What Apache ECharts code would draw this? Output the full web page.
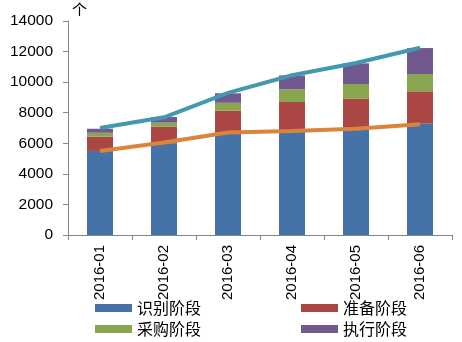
<!DOCTYPE html>
<html><head><meta charset="utf-8">
<script src="https://cdn.jsdelivr.net/npm/echarts@6/dist/echarts.min.js"></script>
<style>html,body{margin:0;padding:0;background:#fff}#c{width:462px;height:342px}</style>
</head><body><div id="c"></div>
<script>
const categories = ['2016-01','2016-02','2016-03','2016-04','2016-05','2016-06'];
const identify = [5500, 6000, 6700, 6780, 6910, 7280];
const prepare = [930, 1080, 1430, 1920, 2000, 2120];
const purchase = [260, 270, 520, 830, 970, 1130];
const execute = [260, 370, 620, 910, 1350, 1700];
const totalLine = [7000, 7700, 9300, 10450, 11250, 12250];
const identifyLine = [5500, 6050, 6700, 6800, 6950, 7250];
const yTicks = [0, 2000, 4000, 6000, 8000, 10000, 12000, 14000];

const chart = echarts.init(document.getElementById('c'), null, {renderer:'canvas'});
const cjk = '"Noto Sans CJK SC", sans-serif';
const lat = '"Liberation Sans", Arial, sans-serif';
const legendText = {fontFamily: cjk, fontSize: 16, color: '#000'};
function bar(name, data, color) {
  return {name, type:'bar', stack:'s', data, barWidth: 26,
    itemStyle:{color, borderWidth:0}, z:2};
}
chart.setOption({
  animation:false,
  grid:{left:68, right:10, top:21, bottom:107, containLabel:false},
  legend:[
    {data:['识别阶段','准备阶段'], left:90, top:295, itemWidth:37, itemHeight:8, itemGap:100,
     icon:'rect', itemStyle:{borderWidth:0}, textStyle:legendText},
    {data:['采购阶段','执行阶段'], left:90, top:316, itemWidth:37, itemHeight:8, itemGap:100,
     icon:'rect', itemStyle:{borderWidth:0}, textStyle:legendText}
  ],
  xAxis:{type:'category', data:categories,
    axisLine:{lineStyle:{color:'#868686'}},
    axisTick:{show:true, length:5, alignWithLabel:false, lineStyle:{color:'#868686'}},
    axisLabel:{rotate:90, fontFamily:lat, fontSize:15, color:'#000', margin:10}},
  yAxis:{type:'value', min:yTicks[0], max:yTicks[yTicks.length-1], interval:2000,
    name:'个', nameLocation:'end', nameGap:4,
    nameTextStyle:{fontFamily:cjk, fontSize:15, color:'#000', align:'left', padding:[0,0,0,4]},
    axisLine:{show:true, lineStyle:{color:'#868686'}},
    axisTick:{show:true, length:5, lineStyle:{color:'#868686'}},
    splitLine:{show:false},
    axisLabel:{fontFamily:lat, fontSize:15.5, color:'#000', margin:15, formatter: v => String(v)}},
  series:[
    bar('识别阶段', identify, '#4572A7'),
    bar('准备阶段', prepare, '#AA4643'),
    bar('采购阶段', purchase, '#89A54E'),
    bar('执行阶段', execute, '#71588F'),
    {name:'合计', type:'line', data:totalLine, symbol:'none', z:5,
      lineStyle:{color:'#4198AF', width:4}},
    {name:'识别', type:'line', data:identifyLine, symbol:'none', z:5,
      lineStyle:{color:'#DB843D', width:4}}
  ]
});
</script></body></html>
